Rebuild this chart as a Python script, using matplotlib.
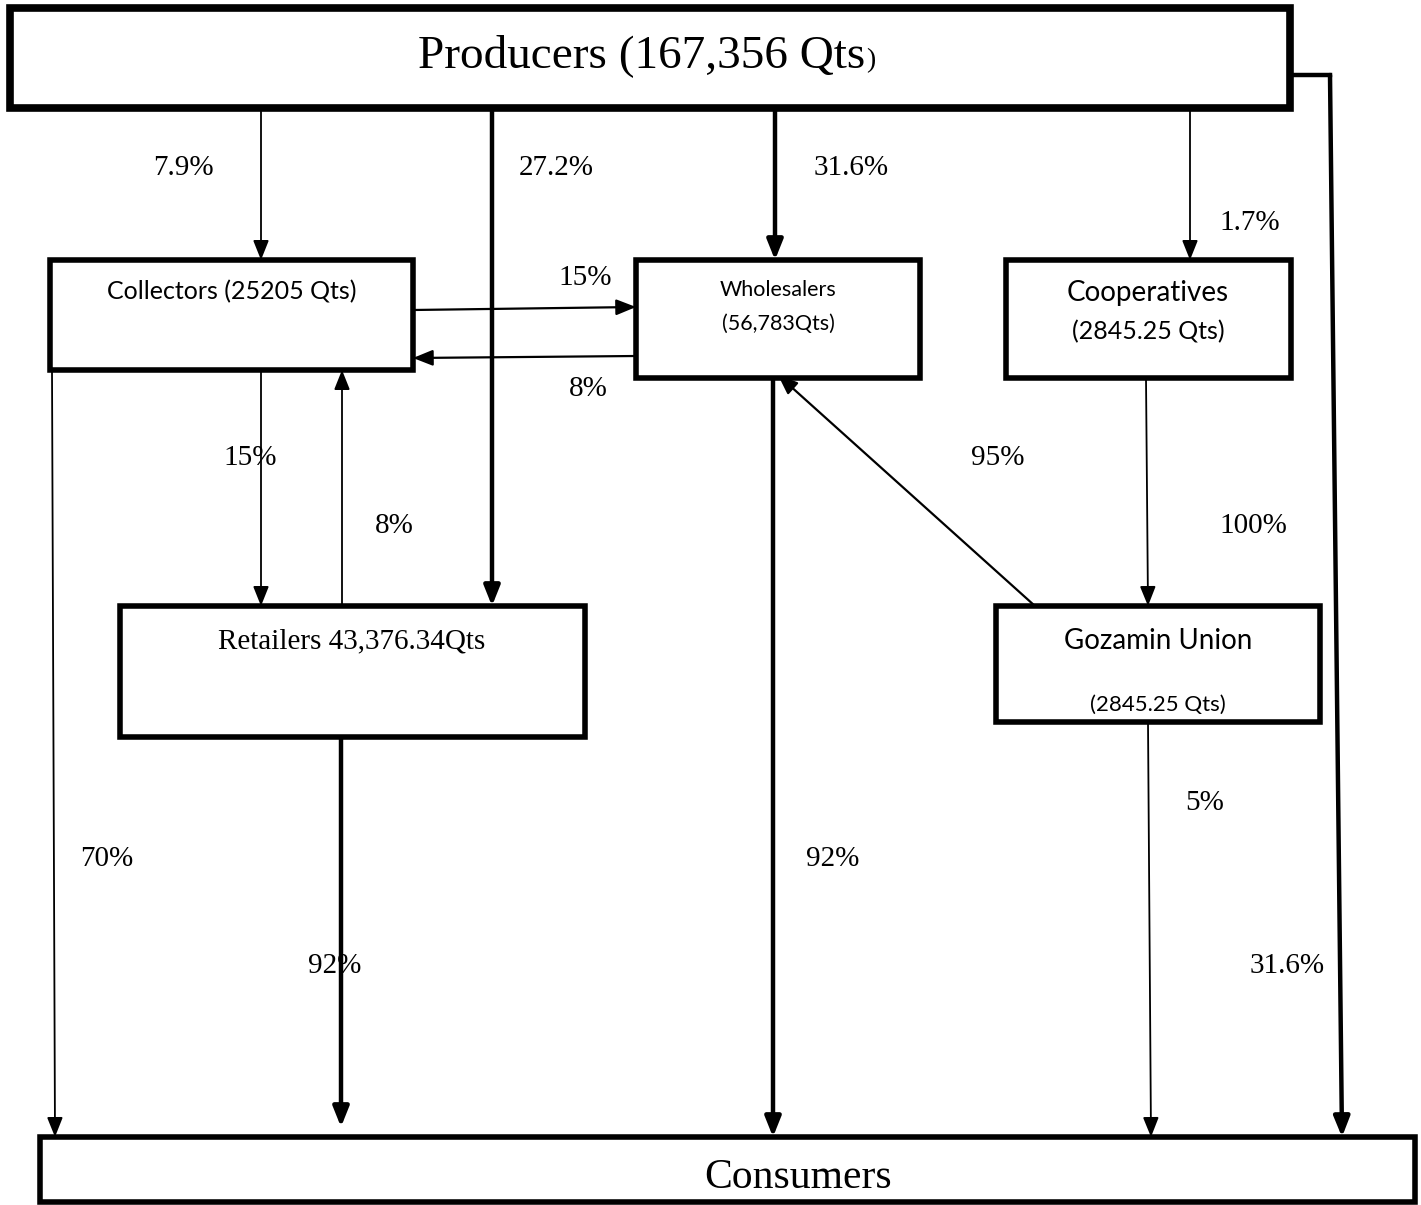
"""
Marketing channel flow chart: producers to consumers with volume shares.
"""

import matplotlib
matplotlib.use("Agg")
import matplotlib.pyplot as plt
from matplotlib.patches import Rectangle

# ---- chart data ----
node_names = ["Producers", "Collectors", "Wholesalers", "Cooperatives",
              "Retailers", "Gozamin Union", "Consumers"]
node_qty = ["167,356 Qts", "25205 Qts", "56,783Qts", "2845.25 Qts",
            "43,376.34Qts", "2845.25 Qts", ""]

flow_from = ["Producers", "Producers", "Producers", "Producers", "Producers",
             "Collectors", "Wholesalers", "Collectors", "Retailers",
             "Collectors", "Retailers", "Wholesalers", "Gozamin Union",
             "Cooperatives", "Gozamin Union"]
flow_to = ["Collectors", "Retailers", "Wholesalers", "Cooperatives", "Consumers",
           "Wholesalers", "Collectors", "Retailers", "Collectors",
           "Consumers", "Consumers", "Consumers", "Wholesalers",
           "Gozamin Union", "Consumers"]
flow_pct = ["7.9%", "27.2%", "31.6%", "1.7%", "31.6%",
            "15%", "8%", "15%", "8%",
            "70%", "92%", "92%", "95%",
            "100%", "5%"]

# ---- layout (pixel coordinates, y grows downward) ----
SERIF = "Liberation Serif"
SANS = "Lato"

boxes = {  # x0, y0, x1, y1, border width
    "Producers": (10, 8, 1290, 108, 5.5),
    "Collectors": (50, 260, 413, 370, 4),
    "Wholesalers": (636, 260, 920, 378, 4),
    "Cooperatives": (1006, 260, 1291, 378, 4),
    "Retailers": (120, 606, 585, 737, 4),
    "Gozamin Union": (996, 606, 1320, 722, 4),
    "Consumers": (40, 1137, 1415, 1202, 4),
}

# start, end, line width for each flow (same order as flow lists)
arrow_geom = [
    ((261, 108), (261, 260), 1.3),
    ((492, 108), (492, 606), 3.2),
    ((775, 108), (775, 260), 3.2),
    ((1190, 108), (1190, 260), 1.3),
    ((1330, 75), (1342, 1137), 3.2),
    ((413, 310), (636, 307), 1.6),
    ((636, 356), (413, 358), 1.6),
    ((261, 370), (261, 606), 1.3),
    ((342, 606), (342, 370), 1.3),
    ((52, 370), (55, 1137), 1.3),
    ((341, 737), (341, 1127), 3.2),
    ((773, 370), (773, 1137), 3.2),
    ((1035, 606), (778, 375), 1.6),
    ((1146, 378), (1148, 606), 1.3),
    ((1148, 722), (1151, 1137), 1.3),
]

label_pos = [(183, 168), (556, 168), (851, 168), (1250, 223), (1287, 966),
             (585, 278), (588, 389), (250, 458), (394, 526),
             (107, 859), (335, 966), (833, 859), (998, 458),
             (1253, 526), (1205, 803)]

fig = plt.figure(figsize=(14.21, 12.05), dpi=100)
ax = fig.add_axes([0, 0, 1, 1])
ax.set_xlim(0, 1421)
ax.set_ylim(1205, 0)
ax.axis("off")

# arrows first so the boxes sit on top of the line ends
for (start, end, lw) in arrow_geom:
    ax.annotate("", xy=end, xytext=start,
                arrowprops=dict(arrowstyle="-|>,head_length=0.6,head_width=0.24",
                                lw=lw, color="black", mutation_scale=20,
                                shrinkA=0, shrinkB=0))

# elbow of the direct producers -> consumers channel
ax.plot([1290, 1330], [75, 75], color="black", lw=3.2, solid_capstyle="projecting")

for name, (x0, y0, x1, y1, bw) in boxes.items():
    ax.add_patch(Rectangle((x0, y0), x1 - x0, y1 - y0, facecolor="white",
                           edgecolor="black", lw=bw, zorder=3))

# box texts
qty = dict(zip(node_names, node_qty))
ax.text(418, 67, f"Producers ({qty['Producers']}", family=SERIF, fontsize=34,
        ha="left", va="baseline", zorder=4)
ax.text(866, 67, ")", family=SERIF, fontsize=20, ha="left", va="baseline", zorder=4)

ax.text(232, 292, f"Collectors ({qty['Collectors']})", family=SANS, fontsize=18,
        ha="center", va="center", zorder=4)
ax.text(778, 290, "Wholesalers", family=SANS, fontsize=15.5,
        ha="center", va="center", zorder=4)
ax.text(778, 324, f"({qty['Wholesalers']})", family=SANS, fontsize=15.5,
        ha="center", va="center", zorder=4)
ax.text(1148, 293, "Cooperatives", family=SANS, fontsize=20,
        ha="center", va="center", zorder=4)
ax.text(1148, 332, f"({qty['Cooperatives']})", family=SANS, fontsize=18,
        ha="center", va="center", zorder=4)
ax.text(352, 641, f"Retailers {qty['Retailers']}", family=SERIF, fontsize=21,
        ha="center", va="center", zorder=4)
ax.text(1158, 641, "Gozamin Union", family=SANS, fontsize=20,
        ha="center", va="center", zorder=4)
ax.text(1158, 705, f"({qty['Gozamin Union']})", family=SANS, fontsize=16,
        ha="center", va="center", zorder=4)
ax.text(798, 1178, "Consumers", family=SERIF, fontsize=30,
        ha="center", va="center", zorder=4)

# flow share labels
for pct, (lx, ly) in zip(flow_pct, label_pos):
    ax.text(lx, ly, pct, family=SERIF, fontsize=21, ha="center", va="center", zorder=5)

fig.savefig("out.png", dpi=100, facecolor="white")
